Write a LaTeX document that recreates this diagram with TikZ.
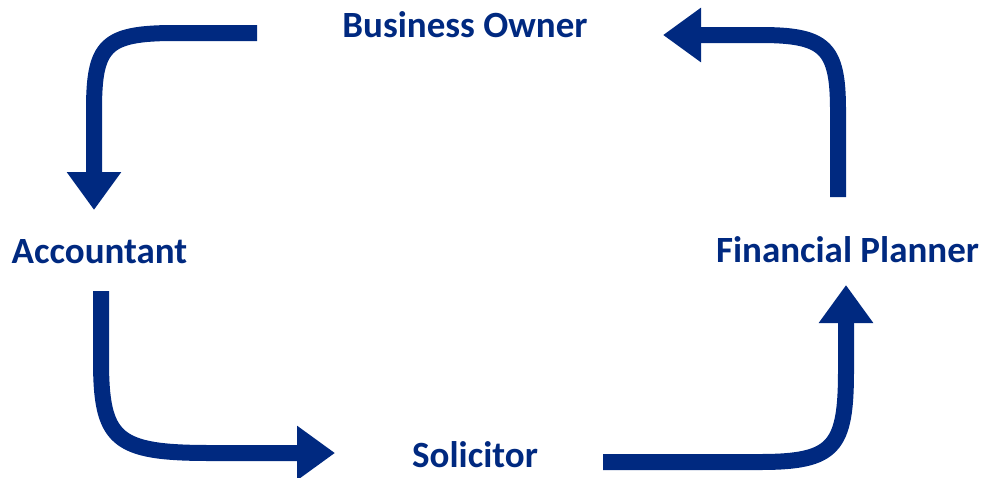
\documentclass[tikz,border=0pt]{standalone}
\usepackage{fontspec}
\setmainfont{Carlito}
\usetikzlibrary{arrows.meta}
\definecolor{navy}{RGB}{0,41,128}
\begin{document}
\begin{tikzpicture}[x=1pt,y=-1pt,
  label/.style={text=navy,font=\bfseries\fontsize{37}{41}\selectfont,anchor=base,inner sep=0pt},
  flow/.style={draw=navy,line width=16pt,-{Triangle[width=52pt,length=38pt]}}]
\useasboundingbox (0,0) rectangle (982,477);
\node[label] (owner) at (465,37) {Business Owner};
\node[label] (acc) at (99.5,263) {Accountant};
\node[label] (fin) at (847.5,262) {Financial Planner};
\node[label] (sol) at (475,467) {Solicitor};
% arrow end points
\coordinate (a1s) at (257,33);
\coordinate (a1e) at (94,210);
\coordinate (a2s) at (838,197);
\coordinate (a2e) at (663,35);
\coordinate (a3s) at (101,291);
\coordinate (a3e) at (335,453);
\coordinate (a4s) at (603,462);
\coordinate (a4e) at (846,285);
\draw[flow] (a1s) -- (175,33) .. controls (105,33) and (94,45) .. (94,110) -- (a1e);
\draw[flow] (a2s) -- (838,110) .. controls (838,47) and (825,35) .. (760,35) -- (a2e);
\draw[flow] (a3s) -- (101,360) .. controls (101,440) and (115,453) .. (210,453) -- (a3e);
\draw[flow] (a4s) -- (760,462) .. controls (835,462) and (846,447) .. (846,370) -- (a4e);
\end{tikzpicture}
\end{document}
